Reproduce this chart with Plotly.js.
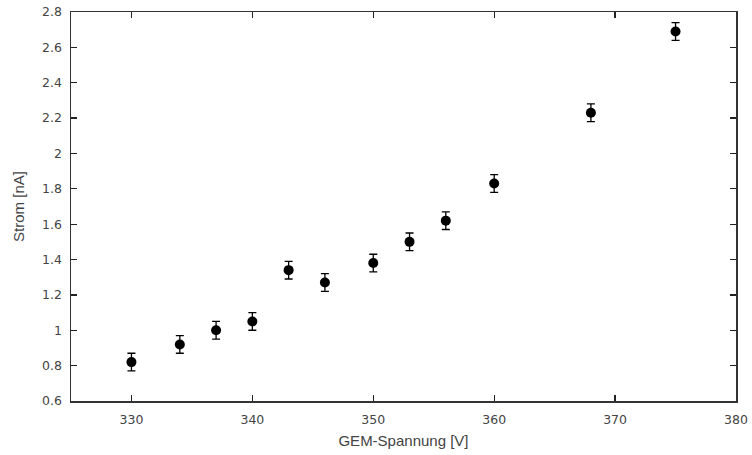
<!DOCTYPE html>
<html>
<head>
<meta charset="utf-8">
<script src="https://cdn.plot.ly/plotly-3.0.1.min.js"></script>
<style>html,body{margin:0;padding:0;background:#fff;}#chart{width:752px;height:455px;}</style>
</head>
<body>
<div id="chart"></div>
<script>
const voltage = [330, 334, 337, 340, 343, 346, 350, 353, 356, 360, 368, 375];
const current = [0.82, 0.92, 1.00, 1.05, 1.34, 1.27, 1.38, 1.50, 1.62, 1.83, 2.23, 2.69];
const currentErr = [0.05, 0.05, 0.05, 0.05, 0.05, 0.05, 0.05, 0.05, 0.05, 0.05, 0.05, 0.05];
const xTicks = [330, 340, 350, 360, 370, 380];
const yTicks = [0.6, 0.8, 1, 1.2, 1.4, 1.6, 1.8, 2, 2.2, 2.4, 2.6, 2.8];

const trace = {
  x: voltage, y: current, type: 'scatter', mode: 'markers',
  marker: {color: '#000', size: 10},
  error_y: {type: 'data', array: currentErr, visible: true, color: '#000', thickness: 1.3, width: 4},
  hoverinfo: 'none'
};
const axisCommon = {
  showgrid: false, zeroline: false, showline: true, mirror: 'ticks',
  linecolor: '#333', linewidth: 1.5, ticks: 'inside', ticklen: 6, tickcolor: '#222', tickwidth: 1.3,
  tickfont: {family: 'DejaVu Sans', size: 12.5, color: '#444'}
};
const layout = {
  width: 752, height: 455,
  margin: {l: 71, r: 16, t: 12, b: 54},
  paper_bgcolor: '#fff', plot_bgcolor: '#fff',
  showlegend: false,
  xaxis: Object.assign({}, axisCommon, {
    range: [325, 380], tickvals: xTicks, ticktext: xTicks.map(String), ticklabelstandoff: 6,
    title: {text: 'GEM-Spannung [V]', font: {family: 'Liberation Sans', size: 15, color: '#444'}, standoff: 10}
  }),
  yaxis: Object.assign({}, axisCommon, {
    range: [0.6, 2.8], tickvals: yTicks, ticktext: yTicks.map(v => String(v)), ticklabelstandoff: 5,
    title: {text: 'Strom [nA]', font: {family: 'Liberation Sans', size: 15, color: '#444'}, standoff: 14}
  })
};
Plotly.newPlot('chart', [trace], layout, {staticPlot: true, displayModeBar: false});
</script>
</body>
</html>
